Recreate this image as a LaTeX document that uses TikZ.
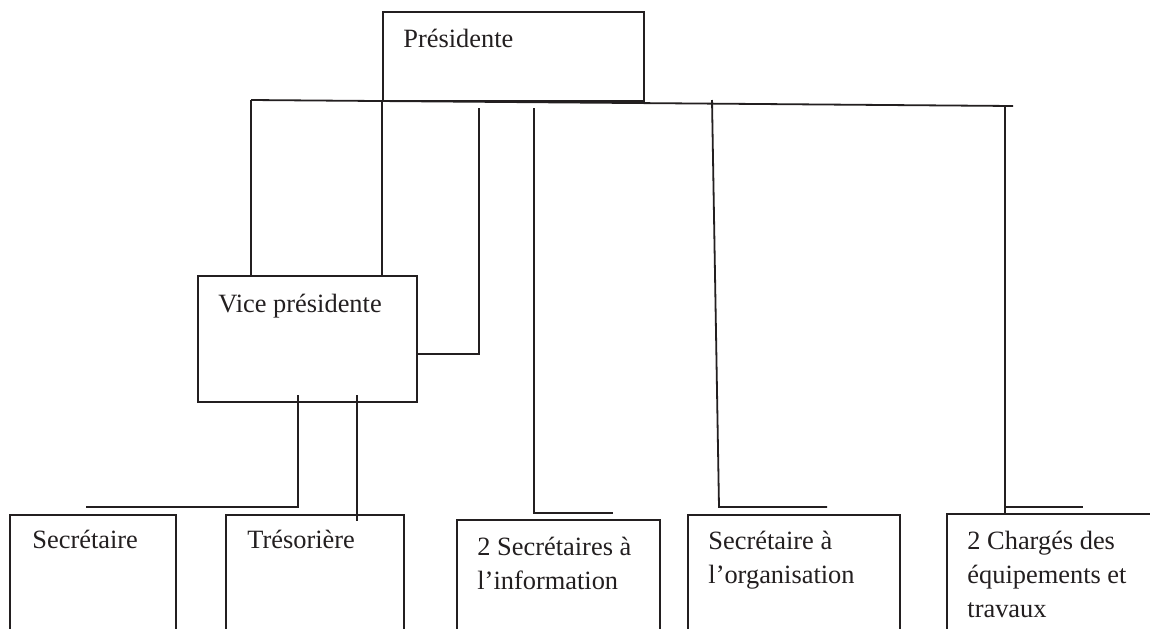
\documentclass[tikz,border=0pt]{standalone}
\usepackage{fontspec}
\setmainfont{Liberation Serif}
\usetikzlibrary{calc}
\definecolor{ink}{HTML}{231F20}
\begin{document}
\begin{tikzpicture}[x=0.5pt,y=-0.5pt,
  boxnode/.style={draw=ink, line width=0.9pt, inner sep=0pt, anchor=north west},
  lbl/.style={inner sep=0pt, anchor=base west, align=left, text=ink,
    font=\fontsize{13.2pt}{17pt}\selectfont},
  conn/.style={draw=ink, line width=0.9pt}]
\useasboundingbox (0,0) rectangle (1150,628);
\fill[white] (0,0) rectangle (1150,628);
\clip (0,0) rectangle (1150,628);
% boxes
\node[boxnode, minimum width=130.5pt, minimum height=44.5pt] (pres) at (382,11) {};
\node[boxnode, minimum width=109.5pt, minimum height=63pt] (vp) at (197,275) {};
\node[boxnode, minimum width=83pt, minimum height=100pt] (sec) at (9,514) {};
\node[boxnode, minimum width=89pt, minimum height=100pt] (tres) at (225,514) {};
\node[boxnode, minimum width=101.5pt, minimum height=100pt] (info) at (456,519) {};
\node[boxnode, minimum width=106pt, minimum height=100pt] (orga) at (687,514) {};
\node[boxnode, minimum width=150pt, minimum height=100pt] (equip) at (946,513) {};
% texts (multi-line nodes are placed by the baseline of their last line)
\node[lbl] (presT) at (403,47) {Présidente};
\node[lbl] (vpT) at (218,312) {Vice présidente};
\node[lbl] (secT) at (32,548) {Secrétaire};
\node[lbl] (tresT) at (247,548) {Trésorière};
\node[lbl] (infoT) at (477,589) {2 Secrétaires à\\l’information};
\node[lbl] (orgaT) at (708,583) {Secrétaire à\\l’organisation};
\node[lbl] (equipT) at (967,617) {2 Chargés des\\équipements et\\travaux};
% connectors
\coordinate (busL) at (251,100);
\coordinate (busR) at (1013,106);
\draw[conn] (busL) -- (busR);
\draw[conn] (busL) -- (vp.north -| busL);
\draw[conn] (pres.south west) -- (vp.north -| pres.south west);
\coordinate (t3) at (479,108);
\draw[conn] (t3) |- ($(vp.north east)!0.62!(vp.south east)$);
\coordinate (t4) at (534,108);
\coordinate (e4) at (613,513);
\draw[conn] (t4) |- (e4);
\coordinate (t5) at (712,100);
\coordinate (k5) at (719,507);
\coordinate (e5) at (827,507);
\draw[conn] (t5) -- (k5) -- (e5);
\coordinate (t6) at (1005,105);
\coordinate (e6) at (1083,507);
\draw[conn] (t6) -- (t6 |- equip.north);
\draw[conn] (t6 |- e6) -- (e6);
\coordinate (s7) at (298,395);
\coordinate (e7) at (86,507);
\draw[conn] (s7) |- (e7);
\coordinate (s8) at (357,395);
\coordinate (e8) at (357,521);
\draw[conn] (s8) -- (e8);
\coordinate (h8) at (313,515);
\draw[conn] (h8) -- (h8 -| e8);
\end{tikzpicture}
\end{document}
